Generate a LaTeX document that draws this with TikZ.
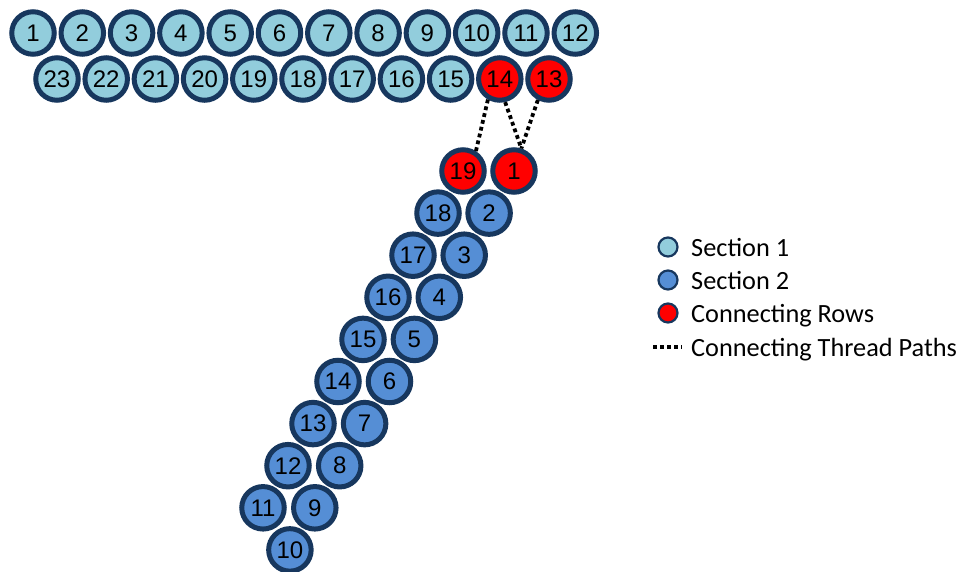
\documentclass[tikz,border=0pt]{standalone}
\usepackage{fontspec}
\setmainfont{Liberation Sans}
\newfontfamily\legendfont{Carlito}
\definecolor{secone}{HTML}{92CDDC}
\definecolor{sectwo}{HTML}{558ED5}
\definecolor{beadline}{HTML}{17375E}
\definecolor{conrow}{HTML}{FF0000}
\begin{document}
\begin{tikzpicture}[x=1pt,y=-1pt,
  bead/.style={circle,draw=beadline,line width=5pt,minimum size=42.5pt,inner sep=0pt,
    font=\fontsize{24}{24}\selectfont},
  beadone/.style={bead,fill=secone},
  beadtwo/.style={bead,fill=sectwo},
  beadred/.style={bead,fill=conrow},
  thread/.style={draw=black,line width=3.8pt,dash pattern=on 3.8pt off 3.2pt},
  legcirc/.style={circle,draw=beadline,line width=2.2pt,minimum size=19pt,inner sep=0pt},
  legtext/.style={anchor=base west,inner sep=0pt,font=\legendfont\fontsize{26.3}{26.3}\selectfont}]
\useasboundingbox (0,0) rectangle (965,571);
% Section 1, top row
\foreach \i in {1,...,12}
  \node[beadone] (a\i) at ({33+49.3*(\i-1)},33) {\i};
% Section 1, second row
\foreach \k in {0,...,8}{
  \pgfmathtruncatemacro{\n}{23-\k}
  \node[beadone] (b\n) at ({57+49.2*\k},79) {\n};
}
\node[beadred] (b14) at ({57+49.2*9},79) {14};
\node[beadred] (b13) at ({57+49.2*10},79) {13};
% Section 2
\node[beadred] (d19) at (463,171) {19};
\node[beadred] (c1) at (514,171) {1};
\foreach \k in {1,...,8}{
  \pgfmathtruncatemacro{\nl}{19-\k}
  \pgfmathtruncatemacro{\nr}{\k+1}
  \node[beadtwo] (d\nl) at ({463-25*\k},{171+42.1*\k}) {\nl};
  \node[beadtwo] (c\nr) at ({514-24.9*\k},{171+42.1*\k}) {\nr};
}
\node[beadtwo] (c10) at ({514-24.9*9},{171+42.1*9}) {10};
% connecting thread paths
\draw[thread] (b14.240) -- (d19.57);
\draw[thread] (b14.283) -- (c1.72);
\draw[thread] (b13.242) -- (c1.72);
% legend
\node[legcirc,fill=secone] (l1) at (668,247) {};
\node[legtext] (t1) at (691,256.5) {Section 1};
\node[legcirc,fill=sectwo] (l2) at (668,280) {};
\node[legtext] (t2) at (691,289.5) {Section 2};
\node[legcirc,fill=conrow] (l3) at (668,313) {};
\node[legtext] (t3) at (691,322.5) {Connecting Rows};
\coordinate (ls) at (653,347);
\coordinate (le) at (682,347);
\draw[thread] (ls) -- (le);
\node[legtext] (t4) at (691,356.5) {Connecting Thread Paths};
\end{tikzpicture}
\end{document}
